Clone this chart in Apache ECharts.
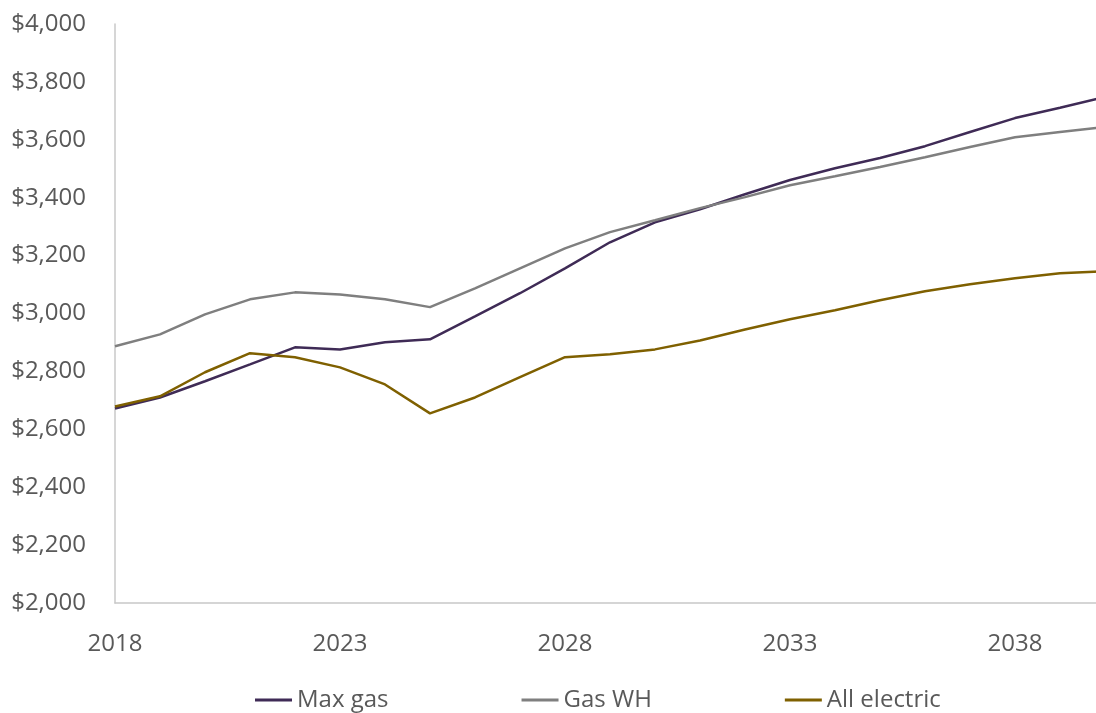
<!DOCTYPE html>
<html>
<head>
<meta charset="utf-8">
<script src="https://cdn.jsdelivr.net/npm/echarts@6/dist/echarts.min.js"></script>
<style>
  html, body { margin: 0; padding: 0; background: #fff; overflow: hidden; }
  #main { width: 1105px; height: 713px; }
</style>
</head>
<body>
<div id="main"></div>
<script>
// years on the x axis
const years = ['2018', '2019', '2020', '2021', '2022', '2023', '2024', '2025', '2026', '2027', '2028',
  '2029', '2030', '2031', '2032', '2033', '2034', '2035', '2036', '2037', '2038', '2039', '2040']

// annual cost
const maxGas = [2672, 2710, 2766, 2824, 2883, 2876, 2901, 2911, 2990, 3070, 3156,
  3246, 3315, 3360, 3412, 3461, 3502, 3537, 3578, 3627, 3675, 3711, 3748]
const gasWH = [2887, 2928, 2997, 3049, 3073, 3066, 3049, 3022, 3087, 3156, 3225,
  3281, 3322, 3364, 3402, 3443, 3474, 3506, 3540, 3575, 3609, 3627, 3644]
const allElectric = [2679, 2714, 2797, 2863, 2849, 2814, 2755, 2655, 2710, 2780, 2849,
  2859, 2876, 2907, 2945, 2980, 3011, 3046, 3077, 3101, 3122, 3139, 3146]

const seriesNames = ['Max gas', 'Gas WH', 'All electric']
const colors = ['#3f2b56', '#7f7f7f', '#7f6000']

const font = '"Open Sans", "Noto Sans", sans-serif'
const textColor = '#595959'
const axisColor = '#c8c8c8'

const chart = echarts.init(document.getElementById('main'), null, { renderer: 'canvas' })

function line(name, data, color) {
  return {
    name,
    type: 'line',
    data,
    symbol: 'none',
    smooth: false,
    lineStyle: { color, width: 2.5 },
    itemStyle: { color },
  }
}

chart.setOption({
  animation: false,
  grid: { left: 115, right: 0, top: 24, bottom: 110 },
  legend: {
    left: 250,
    top: 683,
    itemGap: 133,
    itemWidth: 37,
    itemHeight: 3,
    icon: 'rect',
    textStyle: { fontFamily: font, fontSize: 24, color: textColor },
    data: seriesNames,
  },
  xAxis: {
    type: 'category',
    data: years,
    boundaryGap: false,
    axisLine: { show: true, lineStyle: { color: axisColor, width: 1.5 } },
    axisTick: { show: false },
    axisLabel: {
      interval: 4,
      margin: 29,
      fontFamily: font,
      fontSize: 24,
      color: textColor,
    },
    splitLine: { show: false },
  },
  yAxis: {
    type: 'value',
    min: 2000,
    max: 4000,
    interval: 200,
    axisLine: { show: true, lineStyle: { color: axisColor, width: 1.5 } },
    axisTick: { show: false },
    splitLine: { show: false },
    axisLabel: {
      margin: 29,
      fontFamily: font,
      fontSize: 24,
      color: textColor,
      formatter: v => '$' + v.toLocaleString('en-US'),
    },
  },
  series: [
    line(seriesNames[0], maxGas, colors[0]),
    line(seriesNames[1], gasWH, colors[1]),
    line(seriesNames[2], allElectric, colors[2]),
  ],
})
</script>
</body>
</html>
